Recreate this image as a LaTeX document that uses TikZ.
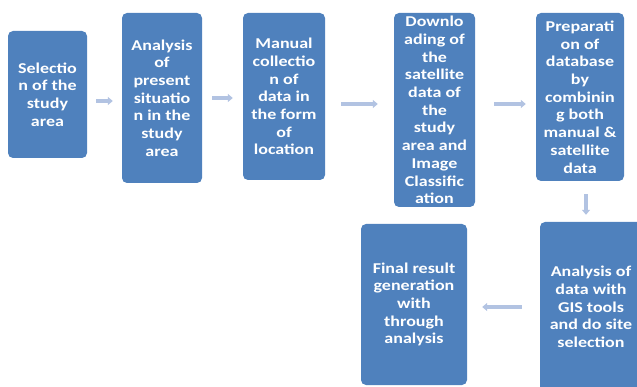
\documentclass[tikz,border=0pt]{standalone}
\usepackage{fontspec}
\setmainfont{Carlito}[FakeStretch=1.2]
\usepackage{xcolor}
\usepackage{tikz}
\usetikzlibrary{arrows.meta,positioning}
\definecolor{stepblue}{RGB}{79,129,189}
\definecolor{flowgray}{RGB}{178,195,226}

\tikzset{
  stepbox/.style={rectangle, rounded corners=5pt, fill=stepblue, draw=none,
    text=white, font=\fontsize{15}{17.7}\selectfont\bfseries, align=center,
    inner sep=0pt},
  flow/.style={flowgray, line width=4pt, -{Triangle[length=5pt,width=8pt]}}
}

\begin{document}
\begin{tikzpicture}[x=1pt, y=-1pt]
\useasboundingbox (0,0) rectangle (637,387);
\clip (0,0) rectangle (637,387);
% boxes of the top row
\node[stepbox, minimum width=79pt, minimum height=127pt] (select) at (47.5,94.5)
  {Selectio\\n of the\\study\\area};
\node[stepbox, minimum width=80pt, minimum height=170pt] (present) at (162,98)
  {Analysis\\of\\present\\situatio\\n in the\\study\\area};
\node[stepbox, minimum width=82pt, minimum height=167pt] (manual) at (284,96.5)
  {Manual\\collectio\\n of\\data in\\the form\\of\\location};
\node[stepbox, minimum width=81pt, minimum height=194pt] (download) at (434.5,110)
  {Downlo\\ading of\\the\\satellite\\data of\\the\\study\\area and\\Image\\Classific\\ation};
\node[stepbox, minimum width=88pt, minimum height=168pt] (database) at (580,97)
  {Preparati\\on of\\database\\by\\combinin\\g both\\manual \&\\satellite\\data};
% boxes of the bottom row
\node[stepbox, minimum width=102pt, minimum height=170pt] (gis) at (591,307)
  {Analysis of\\data with\\GIS tools\\and do site\\selection};
\node[stepbox, minimum width=106pt, minimum height=161pt] (final) at (414,304.5)
  {Final result\\generation\\with\\through\\analysis};
% arrows
\draw[flow, shorten <=9pt, shorten >=9pt] (select.east |- 0,101) -- (present.west |- 0,101);
\draw[flow, shorten <=10pt, shorten >=10pt] (present.east |- 0,98) -- (manual.west |- 0,98);
\draw[flow, shorten <=16pt, shorten >=16pt] (manual.east |- 0,104) -- (download.west |- 0,104);
\draw[flow, shorten <=19pt, shorten >=10pt] (download.east |- 0,104) -- (database.west |- 0,104);
\draw[flow, shorten <=13pt, shorten >=7pt] (database.south -| 586,0) -- (gis.north -| 586,0);
\draw[flow, shorten <=18pt, shorten >=15pt] (gis.west |- 0,307) -- (final.east |- 0,307);
\end{tikzpicture}
\end{document}
